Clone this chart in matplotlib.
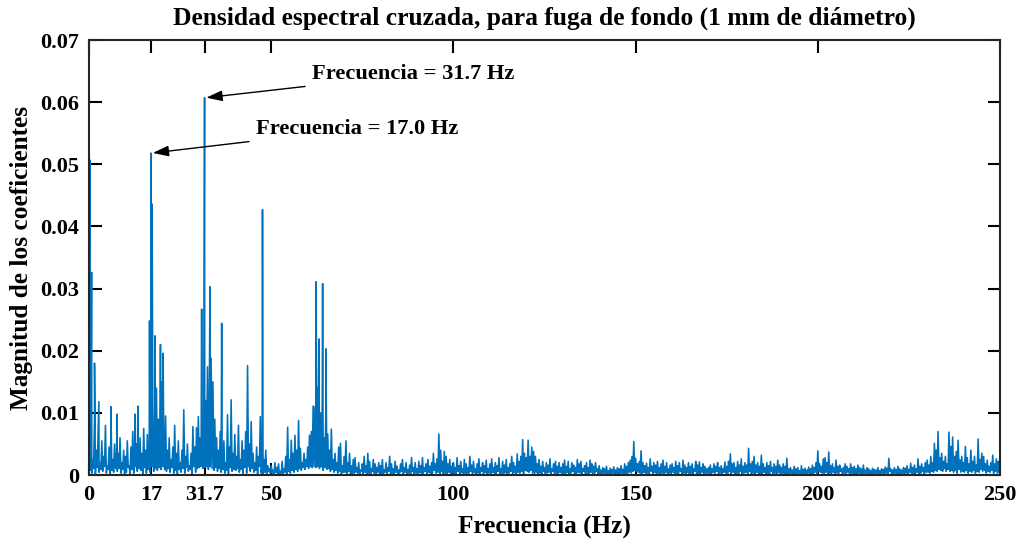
import numpy as np
import matplotlib
matplotlib.use("Agg")
import matplotlib.pyplot as plt

# floor of the spectrum, 0.5 Hz grid, units of 1e-4
floor_0 = [120, 60, 25, 90, 40, 70, 20, 55, 30, 80, 15, 45, 65, 25, 50, 10, 35, 60, 20, 40]
floor_10 = [30, 55, 15, 45, 70, 25, 50, 20, 60, 35, 75, 40, 65, 30, 80, 110, 60, 140, 90, 120]
floor_20 = [150, 70, 95, 40, 60, 25, 45, 80, 35, 55, 20, 40, 105, 30, 50, 15, 35, 78, 45, 76]
floor_30 = [94, 60, 110, 80, 120, 174, 130, 188, 150, 90, 60, 40, 70, 30, 55, 20, 97, 45, 121, 35]
floor_40 = [65, 30, 80, 25, 55, 40, 70, 176, 50, 86, 35, 20, 45, 30, 94, 20, 25, 40, 15, 10]
floor_50 = [15, 8, 20, 12, 18, 6, 22, 10, 30, 77, 25, 56, 35, 64, 40, 88, 43, 20, 35, 25]
floor_60 = [45, 64, 70, 111, 110, 90, 140, 100, 120, 60, 110, 66, 40, 74, 25, 35, 20, 45, 51, 15]
floor_70 = [30, 55, 20, 35, 15, 25, 28, 12, 20, 8, 18, 30, 15, 35, 22, 10, 25, 18, 12, 20]
floor_80 = [15, 25, 8, 20, 12, 30, 18, 10, 22, 14, 8, 18, 25, 12, 20, 9, 16, 28, 12, 20]
floor_90 = [10, 22, 15, 28, 12, 18, 25, 14, 20, 35, 18, 26, 66, 40, 22, 38, 30, 18, 25, 14]
floor_100 = [20, 12, 28, 15, 22, 10, 25, 18, 12, 30, 16, 22, 10, 18, 26, 12, 20, 15, 24, 10]
floor_110 = [18, 26, 12, 20, 15, 28, 10, 22, 16, 25, 12, 18, 30, 20, 14, 34, 22, 30, 57, 35]
floor_120 = [28, 56, 30, 45, 38, 30, 18, 25, 14, 22, 12, 20, 16, 26, 10, 18, 22, 14, 20, 12]
floor_130 = [18, 24, 14, 22, 10, 20, 16, 12, 25, 18, 22, 10, 15, 20, 12, 24, 18, 14, 20, 10]
floor_140 = [15, 8, 12, 10, 14, 7, 11, 9, 13, 8, 12, 10, 15, 9, 18, 14, 20, 24, 30, 54]
floor_150 = [27, 18, 22, 39, 20, 15, 19, 12, 26, 14, 20, 16, 22, 12, 18, 24, 14, 20, 10, 16]
floor_160 = [18, 12, 22, 15, 20, 10, 24, 16, 12, 20, 14, 18, 10, 22, 16, 21, 12, 18, 14, 10]
floor_170 = [12, 16, 10, 18, 14, 20, 12, 15, 10, 21, 14, 22, 34, 18, 20, 12, 22, 16, 26, 14]
floor_180 = [20, 16, 43, 18, 22, 30, 16, 20, 14, 32, 18, 12, 20, 15, 22, 12, 18, 14, 24, 16]
floor_190 = [12, 18, 14, 27, 10, 12, 8, 14, 10, 12, 7, 15, 9, 11, 8, 13, 10, 16, 12, 20]
floor_200 = [39, 18, 14, 26, 28, 20, 37, 15, 18, 12, 24, 14, 16, 10, 12, 18, 14, 10, 18, 12]
floor_210 = [14, 10, 16, 12, 10, 16, 8, 12, 10, 7, 11, 9, 8, 12, 7, 10, 9, 13, 11, 27]
floor_220 = [10, 8, 12, 9, 14, 10, 8, 12, 11, 15, 9, 19, 12, 16, 10, 26, 14, 18, 12, 20]
floor_230 = [24, 16, 30, 20, 51, 40, 70, 28, 35, 22, 30, 18, 69, 46, 61, 30, 38, 56, 24, 30]
floor_240 = [20, 46, 28, 18, 40, 22, 30, 16, 58, 25, 35, 30, 18, 24, 14, 20, 32, 18, 26, 22]
floor_250 = [15]

# low points between the grid points (0.25 Hz offset), one digit each, units of 1.5e-4
troughs = [
    "52718364926153847261", "38162947518263947586", "96473825163728461937",
    "89789697584736251846", "57361829473519203142", "20311203142536475869",
    "79898979586746352413", "31402132041302142031", "20314021302413021402",
    "13024130252314021302", "21403120241302140312", "03214021302413032415",
    "43521302140231402130", "21302410321402130241", "10201102011020213245",
    "43213021403120213021", "30214021302140213021", "20314021320413021402",
    "31402130213021402130", "20110201020110201031", "43213021302140213021",
    "10201020110201020214", "10201020213021302413", "32435465474645352634",
    "35243524364524352423",
]

# narrow peaks between grid points (Hz, units of 1e-4)
peak_freq = [0.2, 0.7, 1.5, 2.7, 6.0, 7.7, 12.6, 13.4, 16.6, 17.0, 17.3, 18.1, 19.6, 20.3,
             30.9, 31.7, 33.2, 36.4, 47.6, 62.3, 62.6, 63.1, 64.1, 65.0]
peak_val = [507, 326, 180, 118, 110, 98, 98, 111, 248, 518, 436, 224, 210, 196,
            267, 607, 303, 244, 427, 311, 140, 219, 308, 203]

floor = (floor_0 + floor_10 + floor_20 + floor_30 + floor_40 + floor_50 + floor_60
         + floor_70 + floor_80 + floor_90 + floor_100 + floor_110 + floor_120
         + floor_130 + floor_140 + floor_150 + floor_160 + floor_170 + floor_180
         + floor_190 + floor_200 + floor_210 + floor_220 + floor_230 + floor_240
         + floor_250)
grid = np.arange(len(floor)) * 0.5

trough_val = np.array([int(c) for row in troughs for c in row]) * 1.5
trough_f = np.arange(len(trough_val)) * 0.5 + 0.25

freq = np.concatenate([grid, trough_f, peak_freq])
mag = np.concatenate([floor, trough_val, peak_val]) * 1e-4
order = np.argsort(freq, kind="stable")
freq, mag = freq[order], mag[order]

xticks = [0, 17, 31.7, 50, 100, 150, 200, 250]
xticklabels = ["0", "17", "31.7", "50", "100", "150", "200", "250"]
yticks = [0, 0.01, 0.02, 0.03, 0.04, 0.05, 0.06, 0.07]
yticklabels = ["0", "0.01", "0.02", "0.03", "0.04", "0.05", "0.06", "0.07"]

plt.rcParams["font.family"] = ["Liberation Serif", "DejaVu Serif"]
plt.rcParams["font.weight"] = "bold"

fig = plt.figure(figsize=(10.2, 5.45), dpi=100)
ax = fig.add_axes([0.0873, 0.1284, 0.8931, 0.7982])
ax.plot(freq, mag, color="#0072BD", lw=1.15)

ax.set_xlim(0, 250)
ax.set_ylim(0, 0.07)
ax.set_xticks(xticks)
ax.set_xticklabels(xticklabels)
ax.set_yticks(yticks)
ax.set_yticklabels(yticklabels)
ax.tick_params(direction="in", length=9, width=1.5, labelsize=16,
               top=True, right=True, pad=7)
for s in ax.spines.values():
    s.set_linewidth(1.5)
    s.set_color("#262626")

ax.set_title("Densidad espectral cruzada, para fuga de fondo (1 mm de diámetro)",
             fontsize=18.4, fontweight="bold", pad=11)
ax.set_xlabel("Frecuencia (Hz)", fontsize=18.2, fontweight="bold", labelpad=7)
ax.set_ylabel("Magnitud de los coeficientes", fontsize=18.2, fontweight="bold", labelpad=5)

arrow = dict(arrowstyle="-|>,head_length=0.6,head_width=0.2", color="black", lw=1.0,
             shrinkA=3, shrinkB=1)
ax.annotate("Frecuencia = 31.7 Hz", xy=(31.8, 0.0607), xytext=(61.2, 0.0645),
            fontsize=16.2, fontweight="bold", va="center", ha="left", arrowprops=arrow)
ax.annotate("Frecuencia = 17.0 Hz", xy=(17.1, 0.0518), xytext=(45.8, 0.0557),
            fontsize=16.2, fontweight="bold", va="center", ha="left", arrowprops=arrow)

fig.savefig("out.png", dpi=100)
